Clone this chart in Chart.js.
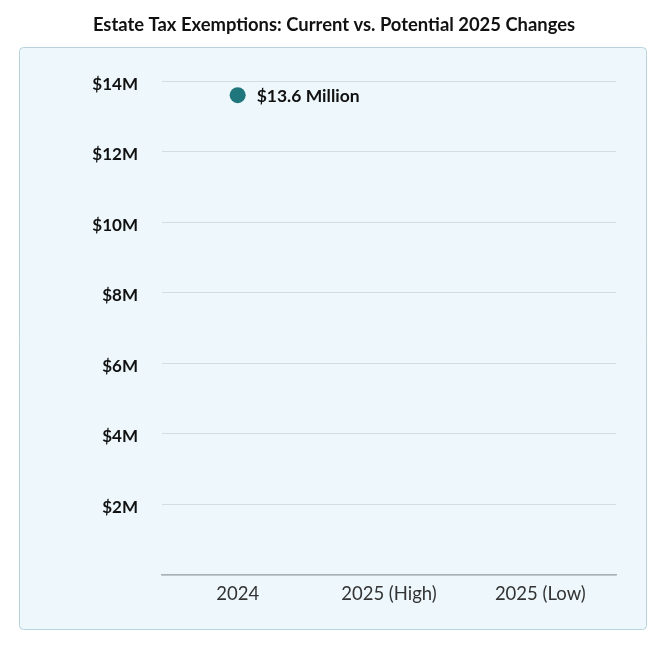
<!DOCTYPE html>
<html>
<head>
<meta charset="utf-8">
<script src="https://cdn.jsdelivr.net/npm/chart.js@4"></script>
<style>
  html, body { margin: 0; padding: 0; background: #ffffff; }
  #wrap { width: 648px; height: 648px; }
</style>
</head>
<body>
<div id="wrap"><canvas id="grafico" width="648" height="648"></canvas></div>
<script>
const categorias = ["2024", "2025 (High)", "2025 (Low)"];
const isencao = [13.6, null, null];
const rotulos = ["$13.6 Million", "", ""];
const ticksY = [0, 2, 4, 6, 8, 10, 12, 14];

// painel azul claro atras do grafico
const painel = {
    id: "painel",
    beforeDraw(chart) {
        const ctx = chart.ctx;
        ctx.save();
        ctx.beginPath();
        ctx.roundRect(19.5, 47.5, 627, 582, 4);
        ctx.fillStyle = "#eef8fc";
        ctx.fill();
        ctx.strokeStyle = "#b8d3dc";
        ctx.lineWidth = 1;
        ctx.stroke();
        ctx.restore();
    }
};

// rotulo ao lado do ponto
const rotuloPonto = {
    id: "rotuloPonto",
    afterDatasetsDraw(chart) {
        const ctx = chart.ctx;
        const meta = chart.getDatasetMeta(0);
        ctx.save();
        ctx.font = "bold 17.5px Lato";
        ctx.fillStyle = "#111111";
        ctx.textBaseline = "middle";
        meta.data.forEach((p, i) => {
            if (isencao[i] == null || !rotulos[i]) return;
            ctx.fillText(rotulos[i], p.x + 19, p.y + 1);
        });
        ctx.restore();
    }
};

new Chart(document.getElementById("grafico"), {
    type: "line",
    data: {
        labels: categorias,
        datasets: [{
            label: "Exemption",
            data: isencao,
            showLine: false,
            pointRadius: 8,
            pointHoverRadius: 8,
            pointBackgroundColor: "#1f767c",
            pointBorderColor: "#1f767c",
            pointBorderWidth: 0
        }]
    },
    options: {
        responsive: false,
        animation: false,
        layout: { padding: { left: 52, right: 32, top: 0, bottom: 34.7 } },
        plugins: {
            legend: { display: false },
            tooltip: { enabled: false },
            title: {
                display: true,
                text: "Estate Tax Exemptions: Current vs. Potential 2025 Changes",
                color: "#111111",
                font: { family: "Lato", size: 18.4, weight: "bold", lineHeight: 1.2 },
                padding: { top: 14, bottom: 45 }
            }
        },
        scales: {
            x: {
                offset: true,
                grid: { display: false, drawTicks: false },
                border: { display: true, color: "#a9b3b7", width: 1.5 },
                ticks: {
                    color: "#333333",
                    padding: 8,
                    font: { family: "Lato", size: 18.5 }
                }
            },
            y: {
                min: 0,
                max: 14,
                afterFit(scale) { scale.width = 110; },
                afterBuildTicks(scale) { scale.ticks = ticksY.map(v => ({ value: v })); },
                grid: { color: "#d3dde1", lineWidth: 1, drawTicks: false },
                border: { display: false },
                ticks: {
                    color: "#111111",
                    padding: 24,
                    labelOffset: 3,
                    font: { family: "Lato", size: 17, weight: "bold" },
                    callback: v => v === 0 ? "" : "$" + v + "M"
                }
            }
        }
    },
    plugins: [painel, rotuloPonto]
});
</script>
</body>
</html>
